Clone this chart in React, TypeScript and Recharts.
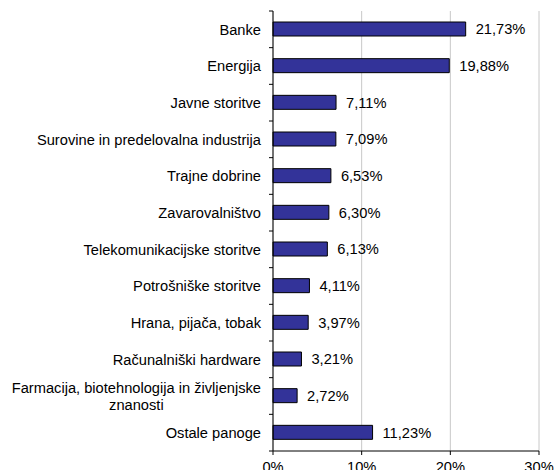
import React from "react";
import { BarChart, Bar, XAxis, YAxis, CartesianGrid, LabelList } from "recharts";

const categories = [
  "Banke",
  "Energija",
  "Javne storitve",
  "Surovine in predelovalna industrija",
  "Trajne dobrine",
  "Zavarovalništvo",
  "Telekomunikacijske storitve",
  "Potrošniške storitve",
  "Hrana, pijača, tobak",
  "Računalniški hardware",
  "Farmacija, biotehnologija in življenjske znanosti",
  "Ostale panoge",
];
const shares = [21.73, 19.88, 7.11, 7.09, 6.53, 6.3, 6.13, 4.11, 3.97, 3.21, 2.72, 11.23];
const xTicks = [0, 10, 20, 30];

const data = categories.map((name, i) => ({ name, value: shares[i] }));

const FONT = "'Liberation Sans', Arial, sans-serif";
const FS = 14.67;
const W = 554;
const H = 470;
const M_TOP = 11;
const X_AXIS_H = 19;
const Y_AXIS_W = 273;
const BAND = (H - M_TOP - X_AXIS_H) / categories.length;

let ctx: CanvasRenderingContext2D | null = null;
function measure(s: string): number {
  if (!ctx) {
    const c = document.createElement("canvas");
    ctx = c.getContext("2d");
  }
  if (!ctx) return s.length * FS * 0.5;
  ctx.font = `${FS}px 'Liberation Sans', Arial, sans-serif`;
  return ctx.measureText(s).width;
}

function wrap(text: string, maxW: number): string[] {
  const words = text.split(" ");
  const lines: string[] = [];
  let cur = "";
  for (const w of words) {
    const test = cur ? cur + " " + w : w;
    if (measure(test) > maxW && cur) {
      lines.push(cur);
      cur = w;
    } else {
      cur = test;
    }
  }
  if (cur) lines.push(cur);
  return lines;
}

const YTick = (props: any) => {
  const { y, payload, index } = props;
  const axisX = Y_AXIS_W;
  const right = axisX - 12;
  const lines = wrap(String(payload.value), 255);
  const maxW = Math.max(...lines.map(measure));
  const cx = right - maxW / 2;
  const lh = 17;
  const start = y - ((lines.length - 1) * lh) / 2;
  const last = index === categories.length - 1;
  return (
    <g>
      <line x1={axisX - 4} x2={axisX} y1={y - BAND / 2} y2={y - BAND / 2} stroke="#000" />
      {last && <line x1={axisX - 4} x2={axisX} y1={y + BAND / 2} y2={y + BAND / 2} stroke="#000" />}
      {lines.map((l, i) => (
        <text
          key={i}
          x={cx}
          y={start + i * lh}
          dy="0.355em"
          textAnchor="middle"
          fill="#000"
          fontSize={FS}
          fontFamily={FONT}
        >
          {l}
        </text>
      ))}
    </g>
  );
};

const fmt = (v: number) => v.toFixed(2).replace(".", ",") + "%";

export default function App() {
  return (
    <div style={{ position: "absolute", left: 0, top: 0, width: W, height: H, background: "#fff" }}>
      <BarChart
        width={W}
        height={H}
        data={data}
        layout="vertical"
        margin={{ top: M_TOP, right: 15, bottom: 0, left: 0 }}
        barSize={14}
      >
        <CartesianGrid horizontal={false} vertical={true} stroke="#c8c8c8" />
        <XAxis
          type="number"
          domain={[0, 30]}
          ticks={xTicks}
          tickFormatter={(v: number) => v + "%"}
          height={X_AXIS_H}
          tickSize={4}
          tickMargin={7}
          axisLine={{ stroke: "#000" }}
          tickLine={{ stroke: "#000" }}
          tick={{ fill: "#000", fontSize: FS, fontFamily: FONT }}
          interval={0}
        />
        <YAxis
          type="category"
          dataKey="name"
          width={Y_AXIS_W}
          tickSize={4}
          tickMargin={8}
          axisLine={{ stroke: "#000" }}
          tickLine={false}
          tick={<YTick />}
          interval={0}
        />
        <Bar dataKey="value" fill="#333399" stroke="#000" strokeWidth={1} isAnimationActive={false}>
          <LabelList
            dataKey="value"
            position="right"
            offset={10}
            formatter={(v: any) => fmt(Number(v))}
            fill="#000"
            fontSize={FS}
            fontFamily={FONT}
          />
        </Bar>
      </BarChart>
    </div>
  );
}
